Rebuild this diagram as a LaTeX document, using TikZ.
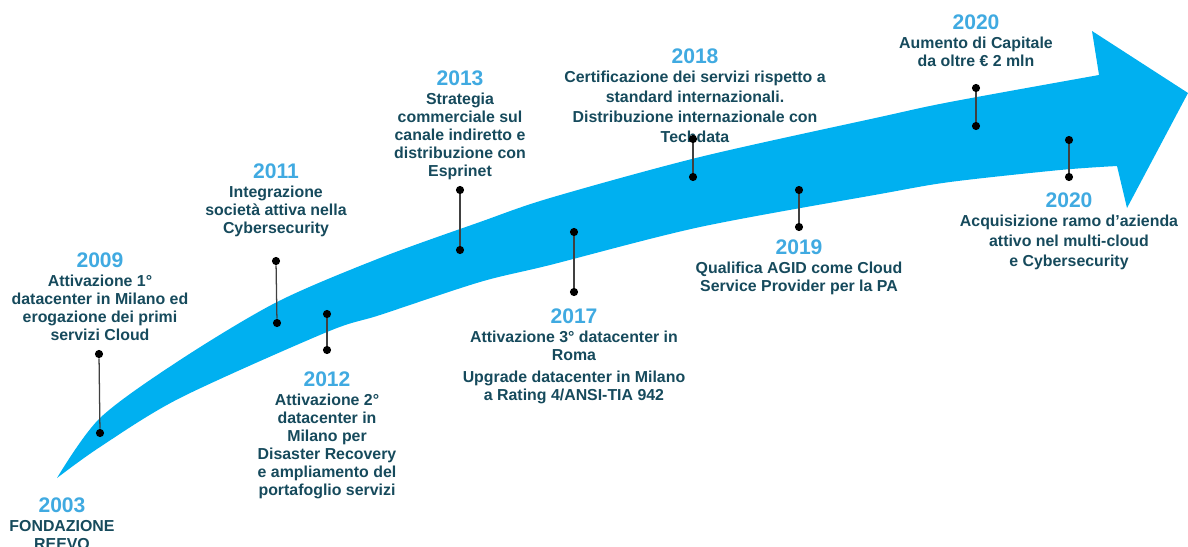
\documentclass[tikz,border=0pt]{standalone}
\usepackage{fontspec}
\setmainfont{Liberation Sans}
\usetikzlibrary{positioning}
\definecolor{arrowblue}{RGB}{0,176,240}
\definecolor{yearblue}{RGB}{64,170,225}
\definecolor{textteal}{RGB}{22,74,92}
\tikzset{
  dotnode/.style={circle,fill=black,inner sep=0pt,minimum size=5.8pt},
  stemline/.style={draw=black!75,line width=0.9pt},
  yearlabel/.style={text=yearblue,font=\bfseries\fontsize{15}{16}\selectfont,inner sep=0pt},
  eventtext/.style={text=textteal,font=\bfseries\fontsize{11.3}{12.8}\selectfont,align=center,inner sep=0pt}
}

\begin{document}
\begin{tikzpicture}[x=0.025cm,y=-0.025cm]
        \useasboundingbox (0,0) rectangle (1188,546);
        % curved arrow
        \fill[arrowblue] plot[smooth] coordinates {(57,478) (100,418) (180,360) (277,302) (380,258) (480,222) (550,198) (700,157) (880,117) (950,102) (1099,75)}
            -- (1092,31) -- (1188,93) -- (1127,208)
            -- plot[smooth] coordinates {(1117,166) (1060,170) (950,182) (880,194) (700,227) (550,265) (480,282) (380,315) (327,332) (180,398) (100,447) (57,478)} -- cycle;
        % years and texts
        \node[yearlabel] (y2003) at (62,505) {2003};
        \node[eventtext,below=5pt of y2003] (e2003) {FONDAZIONE\\REEVO};
        \node[yearlabel] (y2009) at (100,260) {2009};
        \node[eventtext,below=5pt of y2009] (e2009) {Attivazione 1°\\datacenter in Milano ed\\erogazione dei primi\\servizi Cloud};
        \node[yearlabel] (y2011) at (276,171) {2011};
        \node[eventtext,below=5pt of y2011] (e2011) {Integrazione\\società attiva nella\\Cybersecurity};
        \node[yearlabel] (y2012) at (327,379) {2012};
        \node[eventtext,below=5pt of y2012] (e2012) {Attivazione 2°\\datacenter in\\Milano per\\Disaster Recovery\\e ampliamento del\\portafoglio servizi};
        \node[yearlabel] (y2013) at (460,78) {2013};
        \node[eventtext,below=5pt of y2013] (e2013) {Strategia\\commerciale sul\\canale indiretto e\\distribuzione con\\Esprinet};
        \node[yearlabel] (y2017) at (574,316) {2017};
        \node[eventtext,below=5pt of y2017] (e2017) {Attivazione 3° datacenter in\\Roma\\[3pt]Upgrade datacenter in Milano\\a Rating 4/ANSI-TIA 942};
        \node[yearlabel] (y2018) at (695,56) {2018};
        \node[eventtext,below=5pt of y2018] (e2018) {Certificazione dei servizi rispetto a\\[1.5pt]standard internazionali.\\[1.5pt]Distribuzione internazionale con\\[1.5pt]Techdata};
        \node[yearlabel] (y2019) at (799,247) {2019};
        \node[eventtext,below=5pt of y2019] (e2019) {Qualifica AGID come Cloud\\Service Provider per la PA};
        \node[yearlabel] (y2020a) at (976,22) {2020};
        \node[eventtext,below=5pt of y2020a] (e2020a) {Aumento di Capitale\\da oltre € 2 mln};
        \node[yearlabel] (y2020b) at (1069,200) {2020};
        \node[eventtext,below=5pt of y2020b] (e2020b) {Acquisizione ramo d’azienda\\[1.5pt]attivo nel multi-cloud\\[1.5pt]e Cybersecurity};
        % pins
        \node[dotnode] (a2009) at (99,354) {};
        \node[dotnode] (b2009) at (100,433) {};
        \node[dotnode] (a2011) at (276,261) {};
        \node[dotnode] (b2011) at (277,323) {};
        \node[dotnode] (a2012) at (327,314) {};
        \node[dotnode] (b2012) at (327,350) {};
        \node[dotnode] (a2013) at (460,190) {};
        \node[dotnode] (b2013) at (460,250) {};
        \node[dotnode] (a2017) at (574,232) {};
        \node[dotnode] (b2017) at (574,292) {};
        \node[dotnode] (a2018) at (693,139) {};
        \node[dotnode] (b2018) at (693,177) {};
        \node[dotnode] (a2019) at (799,190) {};
        \node[dotnode] (b2019) at (799,227) {};
        \node[dotnode] (a2020a) at (976,88) {};
        \node[dotnode] (b2020a) at (976,126) {};
        \node[dotnode] (a2020b) at (1069,140) {};
        \node[dotnode] (b2020b) at (1069,177) {};
        \draw[stemline] (a2009) -- (b2009);
        \draw[stemline] (a2011) -- (b2011);
        \draw[stemline] (a2012) -- (b2012);
        \draw[stemline] (a2013) -- (b2013);
        \draw[stemline] (a2017) -- (b2017);
        \draw[stemline] (a2018) -- (b2018);
        \draw[stemline] (a2019) -- (b2019);
        \draw[stemline] (a2020a) -- (b2020a);
        \draw[stemline] (a2020b) -- (b2020b);
    \end{tikzpicture}
\end{document}
